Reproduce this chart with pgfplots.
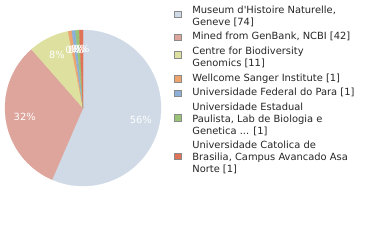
\documentclass[border=0pt]{standalone}
\usepackage{pgfplots}
\usepackage{pgfplotstable}
\pgfplotsset{compat=1.18}
\usepackage{fontspec}
\setmainfont{DejaVu Sans}
\newfontfamily\labfont{DejaVu Sans}
\newcommand\legendfont{\labfont\fontsize{9.9bp}{12bp}\selectfont}
\newcommand\lgt[1]{\begin{tabular}[c]{@{}l@{}}#1\end{tabular}}
\definecolor{c0}{HTML}{CFDAE6}
\definecolor{c1}{HTML}{DDA59B}
\definecolor{c2}{HTML}{DEE09F}
\definecolor{c3}{HTML}{EDA46E}
\definecolor{c4}{HTML}{8DB0D8}
\definecolor{c5}{HTML}{99C477}
\definecolor{c6}{HTML}{DF7257}
\definecolor{lborder}{HTML}{8A8A8A}
\pgfplotstableread{
source count
Museum 74
GenBank 42
CBG 11
Wellcome 1
UFPA 1
UNESP 1
UCB 1
}\sources
\def\shiftlist{{2.5,0,3.5,0,0,2.3,2}}
\begin{document}%
\begin{tikzpicture}
\gdef\total{0}
\pgfplotstableforeachcolumnelement{count}\of\sources\as\c{%
  \pgfmathsetmacro\tmp{\total+\c}\xdef\total{\tmp}}
\begin{axis}[name=ax, x=1bp, y=1bp,
  xmin=-83, xmax=297, ymin=-132, ymax=108,
  axis line style={draw=none}, xtick=\empty, ytick=\empty,
  clip=false,
  legend cell align=left,
  legend image code/.code={%
    \draw[#1, draw=lborder, line width=0.7bp] (0bp,-3.25bp) rectangle (6.5bp,3.25bp);
    \path[draw=none, fill=none] (0bp,0bp) -- (17.5bp,0bp);},
  legend style={at={(axis description cs:0.4592,0.9792)}, anchor=north west,
    draw=none, fill=none, inner sep=0pt, outer sep=0pt,
    row sep=2.6bp, column sep=0pt, font=\legendfont, text=black!85,
    nodes={inner sep=0pt, outer sep=0pt, text depth=, text height=}},
  legend entries={
    {\lgt{Museum d'Histoire Naturelle,\\Geneve [74]}},
    {\lgt{Mined from GenBank, NCBI [42]}},
    {\lgt{Centre for Biodiversity\\Genomics [11]}},
    {\lgt{Wellcome Sanger Institute [1]}},
    {\lgt{Universidade Federal do Para [1]}},
    {\lgt{Universidade Estadual\\Paulista, Lab de Biologia e\\Genetica ... [1]}},
    {\lgt{Universidade Catolica de\\Brasilia, Campus Avancado Asa\\Norte [1]}}
  },
]
\gdef\cum{0}
\pgfplotsinvokeforeach{0,...,6}{
  \pgfplotstablegetelem{#1}{count}\of\sources
  \pgfmathsetmacro\a{90-360*(\cum/\total)}
  \pgfmathsetmacro\b{90-360*((\cum+\pgfplotsretval)/\total)}
  \pgfmathsetmacro\newcum{\cum+\pgfplotsretval}
  \pgfmathsetmacro\sh{\shiftlist[#1]}
  \xdef\cum{\newcum}
  \edef\temp{\noexpand\addplot[fill=c#1, draw=c#1, line width=0.3bp, domain=\b:\a, samples=80, variable=\noexpand\t,
      legend image post style={yshift=\sh bp}]
    ({78*cos(\noexpand\t)},{78*sin(\noexpand\t)}) -- (axis cs:0,0) -- cycle;}
  \temp
}
\gdef\cum{0}
\pgfplotsinvokeforeach{0,...,6}{
  \pgfplotstablegetelem{#1}{count}\of\sources
  \pgfmathsetmacro\m{90-360*((\cum+0.5*\pgfplotsretval)/\total)}
  \pgfmathtruncatemacro\pct{100*(\pgfplotsretval/\total)}
  \pgfmathsetmacro\lx{59*cos(\m)}
  \pgfmathsetmacro\ly{59*sin(\m)}
  \pgfmathsetmacro\newcum{\cum+\pgfplotsretval}
  \xdef\cum{\newcum}
  \edef\temp{\noexpand\node[text=white, font=\noexpand\legendfont, inner sep=0pt] at (axis cs:\lx,\ly) {\pct\noexpand\%};}
  \temp
}
\end{axis}
\pgfresetboundingbox
\path[use as bounding box] (ax.south west) rectangle (ax.north east);
\end{tikzpicture}%
\end{document}
